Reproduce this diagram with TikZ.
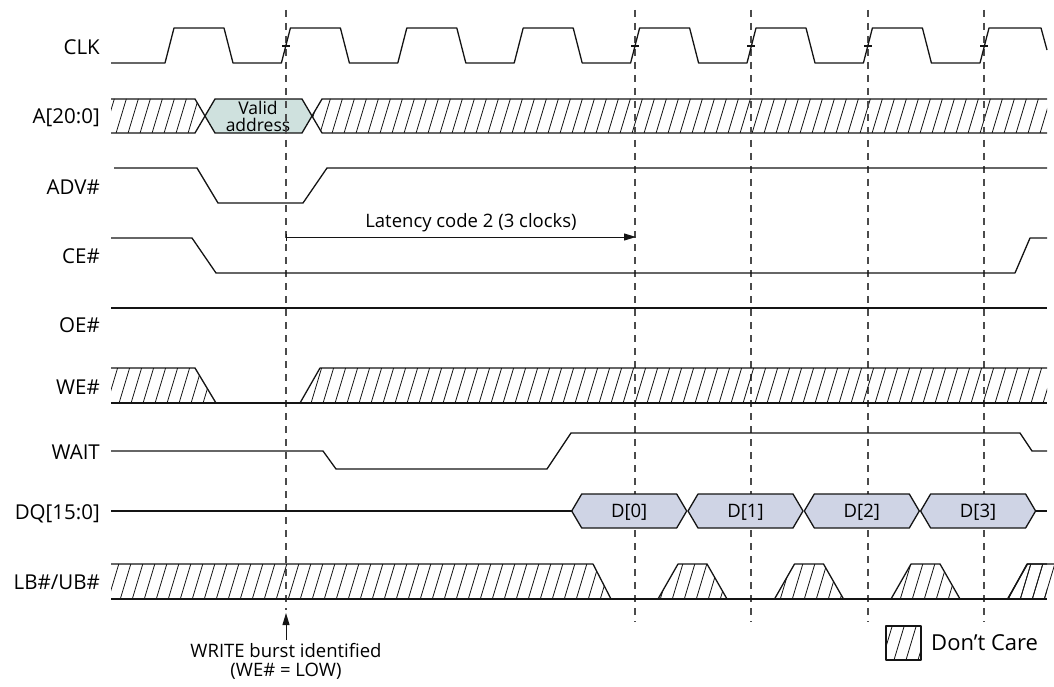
\documentclass[tikz,border=0pt]{standalone}
\usepackage{fontspec}
\setmainfont{Open Sans}
\usetikzlibrary{arrows.meta, positioning}

\definecolor{addrfill}{RGB}{207,225,222}
\definecolor{datafill}{RGB}{207,212,229}
\definecolor{guidegray}{RGB}{75,75,75}
\definecolor{inkblack}{RGB}{20,20,20}

\tikzset{
  wave/.style={inkblack, line width=1.3pt, line join=round},
  hatch/.style={inkblack, line width=0.8pt},
  guide/.style={guidegray, line width=1.2pt, dash pattern=on 7pt off 6pt},
  siglabel/.style={anchor=base east, inner sep=0pt, font=\fontsize{20.5}{23}\selectfont},
  note/.style={inner sep=0pt, font=\fontsize{18.5}{19}\selectfont, align=center},
}

% hatched "don't care" area, clipped to a closed path
\newcommand{\dontcare}[1]{%
  \begin{scope}
    \clip #1;
    \foreach \h in {-210,-198,...,1060}
      \draw[hatch] (\h,700) -- ++(210,-700);
  \end{scope}}

\begin{document}
\begin{tikzpicture}[x=1pt, y=-1pt]
  \useasboundingbox (0,0) rectangle (1054,687);

  % Signal names
  \node[siglabel] (clk)  at (100,55)  {CLK};
  \node[siglabel] (addr) at (100,124) {A[20:0]};
  \node[siglabel] (adv)  at (100,194) {ADV\#};
  \node[siglabel] (ce)   at (100,263) {CE\#};
  \node[siglabel] (oe)   at (100,332) {OE\#};
  \node[siglabel] (we)   at (100,394) {WE\#};
  \node[siglabel] (wait) at (100,459) {WAIT};
  \node[siglabel] (dq)   at (100,519) {DQ[15:0]};
  \node[siglabel] (lbub) at (100,589) {LB\#/UB\#};

  % Address bus
  \dontcare{(111,99) -- (195,99) -- (205,116) -- (195,133) -- (111,133) -- cycle}
  \draw[wave] (111,99) -- (195,99) -- (205,116) -- (195,133) -- (111,133);
  \draw[wave, fill=addrfill] (205,116) -- (215,99) -- (302,99) -- (312,116)
    -- (302,133) -- (215,133) -- cycle;
  \node[note, font=\fontsize{17.5}{17}\selectfont] (valid) at (258,116) {Valid\\address};
  \dontcare{(312,116) -- (322,99) -- (1047,99) -- (1047,133) -- (322,133) -- cycle}
  \draw[wave] (1047,99) -- (322,99) -- (312,116) -- (322,133) -- (1047,133);

  % Clock edges used for timing
  \foreach \x in {635,751,868,984}
    \draw[guide] (\x,10) -- (\x,622);
  \draw[guide] (286,10) -- (286,610);

  % Clock
  \draw[wave] (111,63) \foreach \k in {0,...,6} {
      -- ({165+116.4*\k},63) -- ({174+116.4*\k},28)
      -- ({224+116.4*\k},28) -- ({233+116.4*\k},63) }
    -- (980,63) -- (989,28) -- (1041,28) -- (1047,50);
  \foreach \x in {286,635,751,868,984}
    \draw[wave] (\x-4,46) -- (\x+4,46);

  % ADV#
  \draw[wave] (114,168) -- (197,168) -- (218,203) -- (303,203) -- (327,168) -- (1047,168);

  % Latency
  \coordinate (lat0) at (286,237);
  \coordinate (lat1) at (636,237);
  \draw[inkblack, line width=1pt, {Bar[width=7pt]}-{Triangle[length=12pt, width=7pt]}] (lat0) -- (lat1);
  \node[note] (latency) at (471,223) {Latency code 2 (3 clocks)};

  % CE#
  \draw[wave] (111,238) -- (192,238) -- (216,273) -- (1015,273) -- (1030,238) -- (1047,238);

  % OE#
  \draw[wave] (111,308) -- (1047,308);

  % WE#
  \dontcare{(111,368) -- (195,368) -- (216,403) -- (111,403) -- cycle}
  \dontcare{(300,403) -- (320,368) -- (1047,368) -- (1047,403) -- cycle}
  \draw[wave] (111,368) -- (195,368) -- (216,403);
  \draw[wave] (300,403) -- (320,368) -- (1047,368);
  \draw[wave] (111,403) -- (1047,403);

  % WAIT
  \draw[wave] (111,451) -- (323,451) -- (336,469) -- (547,469) -- (571,433)
    -- (1020,433) -- (1032,451) -- (1047,451);

  % DQ
  \draw[wave] (111,511) -- (572,511);
  \draw[wave] (1035,511) -- (1047,511);
  \foreach \k/\d in {0/0,1/1,2/2,3/3} {
    \pgfmathsetmacro{\lft}{571.7+116.3*\k}
    \draw[wave, fill=datafill] (\lft,511) -- (\lft+10,494) -- (\lft+105,494)
      -- (\lft+115,511) -- (\lft+105,528) -- (\lft+10,528) -- cycle;
    \node[note] (d\d) at (\lft+57.5,512) {D[\d]};
  }

  % LB#/UB#
  \dontcare{(111,564) -- (593,564) -- (611,599) -- (111,599) -- cycle}
  \draw[wave] (111,564) -- (593,564) -- (611,599);
  \foreach \k in {0,...,3} {
    \pgfmathsetmacro{\b}{658+116.5*\k}
    \dontcare{(\b,599) -- (\b+20,564) -- (\b+49,564) -- (\b+69,599) -- cycle}
    \draw[wave] (\b,599) -- (\b+20,564) -- (\b+49,564) -- (\b+69,599);
  }
  \dontcare{(1008,599) -- (1027,564) -- (1047,564) -- (1047,599) -- cycle}
  \draw[wave] (1008,599) -- (1027,564) -- (1047,564);
  \draw[wave] (111,599) -- (1047,599);

  % WRITE burst marker
  \coordinate (wr0) at (286,640);
  \coordinate (wr1) at (286,613);
  \draw[inkblack, line width=1pt, -{Triangle[length=12pt, width=7pt]}] (wr0) -- (wr1);
  \node[note, anchor=north] (wrnote) at (286,643) {WRITE burst identified\\(WE\# = LOW)};

  % Legend
  \dontcare{(886,626) rectangle (921,660)}
  \draw[wave] (886,626) rectangle (921,660);
  \node[anchor=west, inner sep=0pt, font=\fontsize{22}{24}\selectfont] (legend) at (931,643) {Don’t Care};
\end{tikzpicture}
\end{document}
